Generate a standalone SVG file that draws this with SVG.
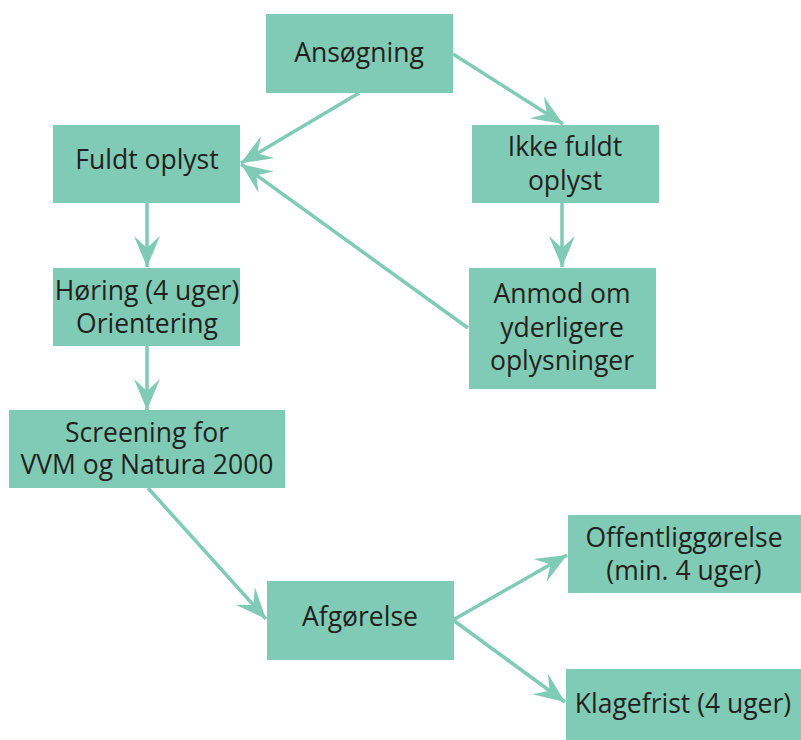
<svg xmlns="http://www.w3.org/2000/svg" width="801" height="740" viewBox="0 0 801 740">
<style>
.box{fill:#7fcbb5}
.t{font-family:"Open Sans","Noto Sans",sans-serif;font-size:26.5px;fill:#231f20;text-anchor:middle}
.c{stroke:#7fcbb5;stroke-width:3.5;fill:none}
</style>
<defs>
<marker id="ah" markerUnits="userSpaceOnUse" viewBox="-32 -14 33 28" refX="0" refY="0" markerWidth="33" markerHeight="28" orient="auto">
<path d="M0,0 L-31,-13 L-19,0 L-31,13 Z" fill="#7fcbb5"/>
</marker>
</defs>
<rect width="801" height="740" fill="#fff"/>
<g id="connectors">
<line class="c" x1="359" y1="93" x2="241" y2="163" marker-end="url(#ah)"/>
<line class="c" x1="453" y1="54" x2="563" y2="124" marker-end="url(#ah)"/>
<line class="c" x1="147" y1="203" x2="147" y2="267" marker-end="url(#ah)"/>
<line class="c" x1="562" y1="203" x2="562" y2="267" marker-end="url(#ah)"/>
<line class="c" x1="468" y1="328" x2="241" y2="164" marker-end="url(#ah)"/>
<line class="c" x1="147" y1="346" x2="147" y2="410" marker-end="url(#ah)"/>
<line class="c" x1="148" y1="488" x2="266" y2="619" marker-end="url(#ah)"/>
<line class="c" x1="453" y1="620" x2="567" y2="555" marker-end="url(#ah)"/>
<line class="c" x1="453" y1="620" x2="565" y2="702" marker-end="url(#ah)"/>
</g>
<g id="ansogning"><rect class="box" x="266" y="14" width="187" height="79"/><text class="t" x="359" y="62">Ansøgning</text></g>
<g id="fuldt"><rect class="box" x="53" y="125" width="187" height="78"/><text class="t" x="147" y="169">Fuldt oplyst</text></g>
<g id="ikkefuldt"><rect class="box" x="472" y="125" width="187" height="78"/><text class="t" x="565" y="156">Ikke fuldt</text><text class="t" x="565" y="190">oplyst</text></g>
<g id="horing"><rect class="box" x="53" y="268" width="187" height="78"/><text class="t" x="147" y="300">Høring (4 uger)</text><text class="t" x="147" y="333">Orientering</text></g>
<g id="anmod"><rect class="box" x="469" y="268" width="187" height="121"/><text class="t" x="562" y="303">Anmod om</text><text class="t" x="562" y="337">yderligere</text><text class="t" x="562" y="370">oplysninger</text></g>
<g id="screening"><rect class="box" x="9" y="410" width="276" height="78"/><text class="t" x="147" y="442">Screening for</text><text class="t" x="147" y="474">VVM og Natura 2000</text></g>
<g id="afgorelse"><rect class="box" x="267" y="581" width="187" height="79"/><text class="t" x="360" y="626">Afgørelse</text></g>
<g id="offentlig"><rect class="box" x="568" y="515" width="233" height="78"/><text class="t" x="684" y="547">Offentliggørelse</text><text class="t" x="684" y="580">(min. 4 uger)</text></g>
<g id="klagefrist"><rect class="box" x="566" y="669" width="235" height="71"/><text class="t" x="683" y="713">Klagefrist (4 uger)</text></g>
</svg>
